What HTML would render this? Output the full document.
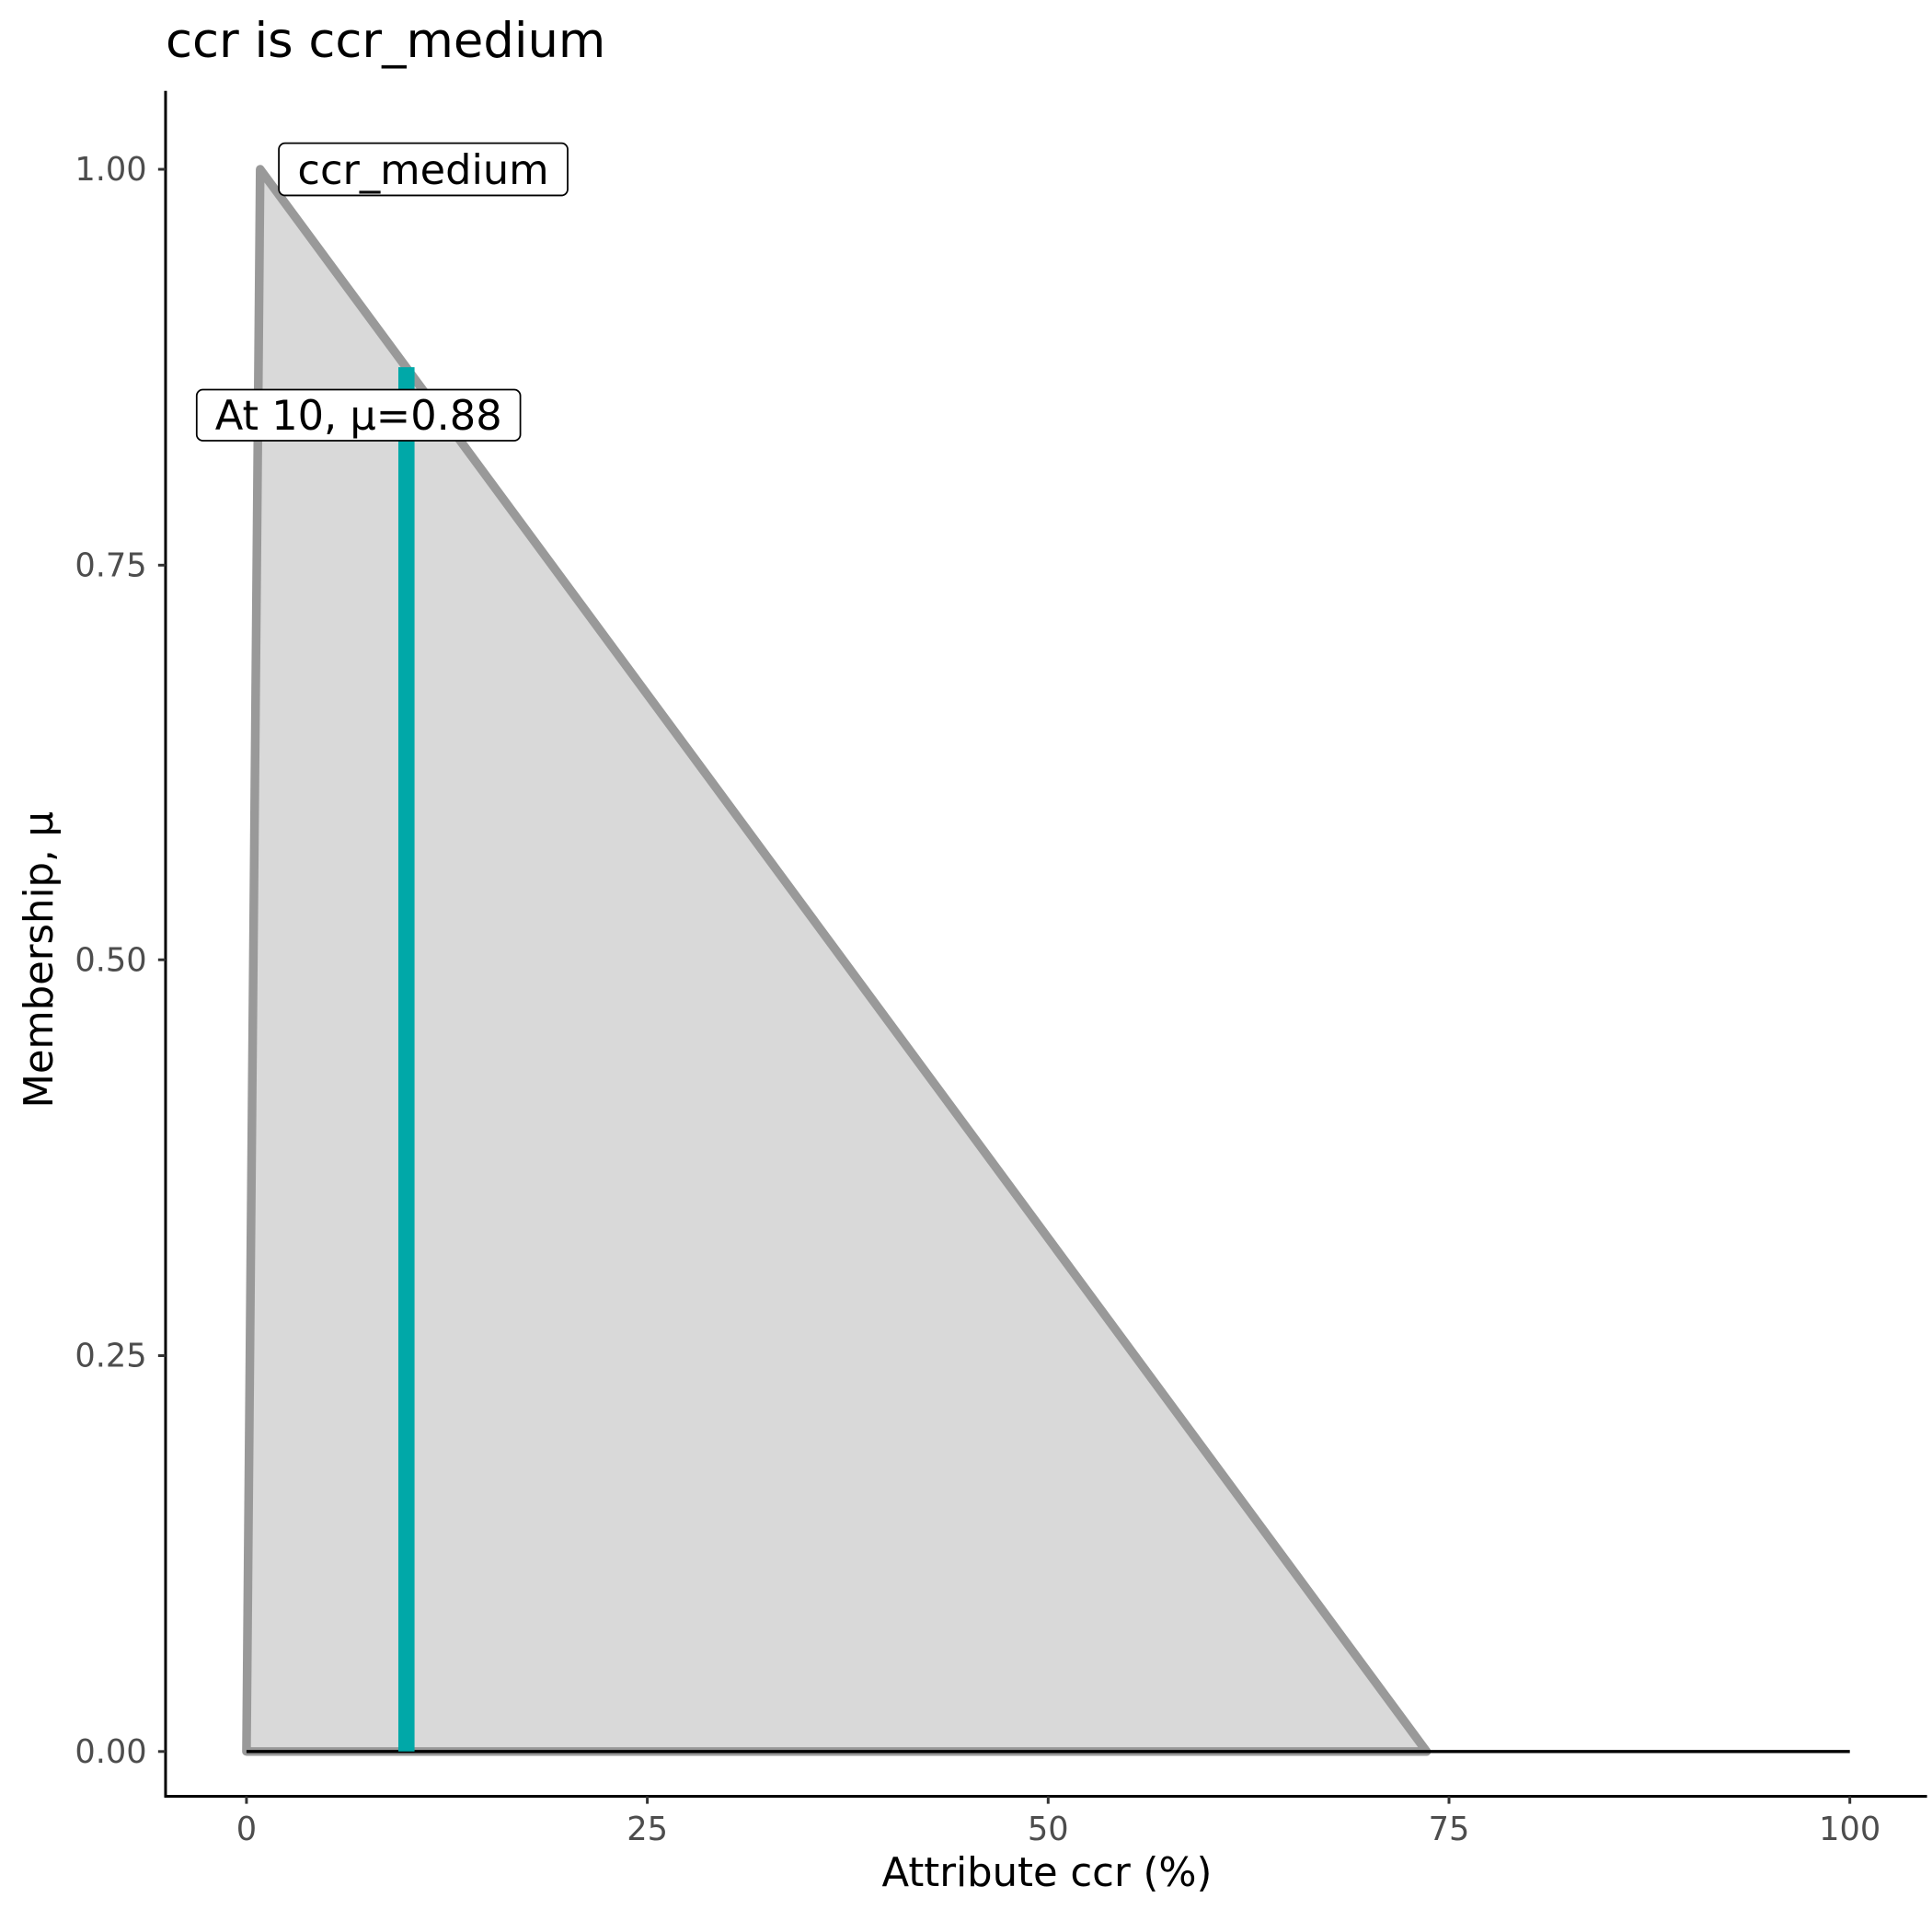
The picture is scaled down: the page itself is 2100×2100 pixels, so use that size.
<!DOCTYPE html>
<html><head><meta charset="utf-8"><style>html,body{margin:0;padding:0;background:#fff}svg{display:block}</style></head>
<body>
<svg width="2100" height="2100" viewBox="0 0 1552 1552" xmlns="http://www.w3.org/2000/svg" font-family="'DejaVu Sans','Liberation Sans',sans-serif">
<rect width="1552" height="1552" fill="#fff"/>
<text x="133" y="46" font-size="39" fill="#000">ccr is ccr_medium</text>
<polygon points="198,1407 209,136 1146,1407" fill="#d9d9d9" stroke="#999" stroke-width="7" stroke-linejoin="round"/>
<line x1="198" y1="1407" x2="1486" y2="1407" stroke="#000" stroke-width="2.5"/>
<line x1="326.5" y1="295" x2="326.5" y2="1407" stroke="#00a8a8" stroke-width="13"/>
<rect x="224" y="115" width="232" height="42" rx="5" fill="#fff" stroke="#000" stroke-width="1.3"/>
<text x="340" y="148" font-size="33" text-anchor="middle" fill="#000">ccr_medium</text>
<rect x="158" y="313" width="260" height="41" rx="5" fill="#fff" stroke="#000" stroke-width="1.3"/>
<text x="288" y="345" font-size="33" text-anchor="middle" fill="#000">At 10, μ=0.88</text>
<line x1="133" y1="73" x2="133" y2="1444" stroke="#000" stroke-width="2.2"/>
<line x1="132" y1="1443" x2="1548" y2="1443" stroke="#000" stroke-width="2.2"/>
<g stroke="#333" stroke-width="2.2">
<line x1="127" y1="136" x2="133" y2="136"/><line x1="127" y1="454" x2="133" y2="454"/><line x1="127" y1="771" x2="133" y2="771"/><line x1="127" y1="1089" x2="133" y2="1089"/><line x1="127" y1="1407" x2="133" y2="1407"/>
<line x1="198" y1="1443" x2="198" y2="1449"/><line x1="520" y1="1443" x2="520" y2="1449"/><line x1="842" y1="1443" x2="842" y2="1449"/><line x1="1164" y1="1443" x2="1164" y2="1449"/><line x1="1486" y1="1443" x2="1486" y2="1449"/>
</g>
<g font-size="26" fill="#4d4d4d" text-anchor="end">
<text x="118" y="145">1.00</text><text x="118" y="463">0.75</text><text x="118" y="780">0.50</text><text x="118" y="1098">0.25</text><text x="118" y="1416">0.00</text>
</g>
<g font-size="26" fill="#4d4d4d" text-anchor="middle">
<text x="198" y="1478">0</text><text x="520" y="1478">25</text><text x="842" y="1478">50</text><text x="1164" y="1478">75</text><text x="1486" y="1478">100</text>
</g>
<text x="841" y="1515" font-size="32" text-anchor="middle" fill="#000">Attribute ccr (%)</text>
<text transform="translate(42,771) rotate(-90)" font-size="32" text-anchor="middle" fill="#000">Membership, μ</text>
</svg>
</body></html>
